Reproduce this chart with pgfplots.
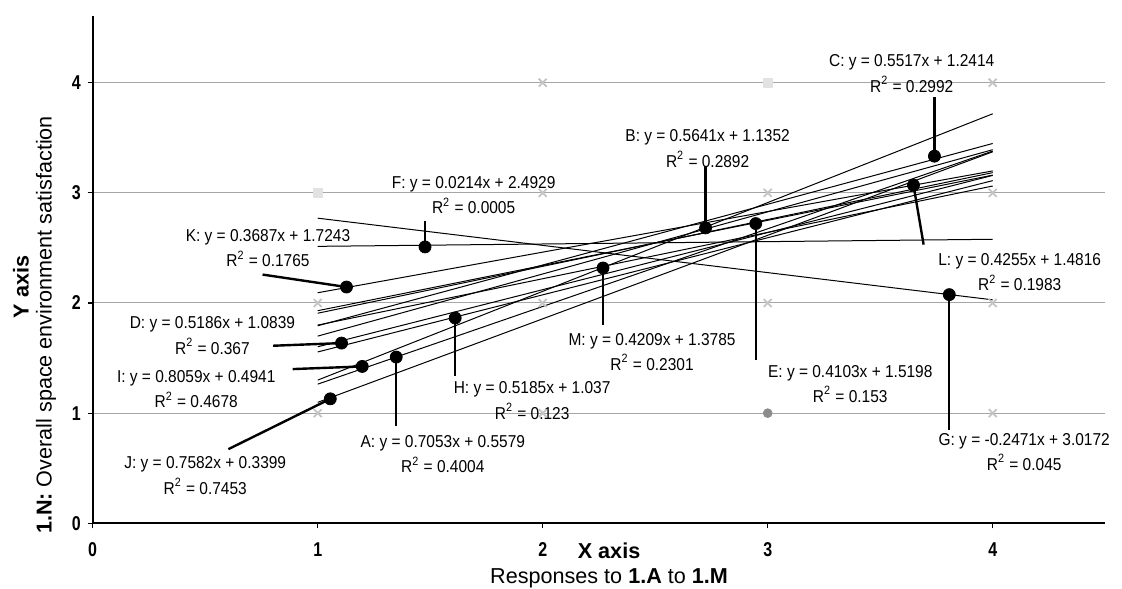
\documentclass[border=0pt]{standalone}
\usepackage{fontspec}
\setmainfont{Liberation Sans}
\newfontfamily\eqfont{Liberation Sans}[FakeStretch=0.9]
\newfontfamily\tickfont{Liberation Sans}[FakeStretch=0.8]
\usepackage{pgfplots}
\pgfplotsset{compat=1.18}
\definecolor{gridgray}{RGB}{166,166,166}
\definecolor{crossgray}{RGB}{196,196,196}
\definecolor{sqgray}{RGB}{226,226,226}
\definecolor{dotgray}{RGB}{140,140,140}

\tikzset{
  eq/.style={align=center, inner sep=0pt, font=\eqfont\fontsize{8.6bp}{12.7bp}\selectfont},
  trend/.style={black, line width=0.5bp, no marks},
  leader/.style={black, line width=1.2bp, no marks},
}

\begin{document}
\begin{tikzpicture}
\begin{axis}[
    at={(0,0)}, anchor=south west,
    x=112.5bp, y=55.075bp,
    xmin=0, xmax=4.5, ymin=0, ymax=4.605,
    clip=false,
    axis x line=bottom, axis y line=left,
    axis line style={-, line width=1bp},
    xtick={0,1,2,3,4}, ytick={0,1,2,3,4},
    tick align=outside, major tick length=2.5bp,
    tick style={black, line width=0.6bp},
    ymajorgrids,
    grid style={gridgray, line width=0.5bp},
    /pgf/number format/assume math mode=true,
    ticklabel style={font=\tickfont\fontsize{10bp}{10bp}\selectfont\bfseries},
    xticklabel style={anchor=center, yshift=-10.5bp},
    label style={font=\fontsize{10.8bp}{12.5bp}\selectfont},
    xlabel={\textbf{X axis}\\Responses to \textbf{1.A} to \textbf{1.M}},
    xlabel style={at={(axis description cs:0.51,0)}, anchor=center, yshift=-21.1bp, align=center},
    ylabel={\textbf{1.N:} Overall space environment satisfaction},
    ylabel style={at={(axis description cs:-0.0461,0.391)}, anchor=center},
]
% raw responses (grey markers)
\addplot[only marks, mark=x, mark size=2.8bp, mark options={crossgray, line width=0.9bp}]
    coordinates {(1,1)(1,2)(2,1)(2,2)(2,3)(2,4)(3,2)(3,3)(4,1)(4,2)(4,3)(4,4)};
\addplot[only marks, mark=square*, mark size=2.3bp, mark options={sqgray}]
    coordinates {(1,3)(3,4)};
\addplot[only marks, mark=*, mark size=2.2bp, mark options={dotgray}]
    coordinates {(3,1)};

% trend lines A..M, from x=1 to x=4
\addplot[trend] coordinates {(1,1.2632)(4,3.3791)}; % A
\addplot[trend] coordinates {(1,1.6993)(4,3.3916)}; % B
\addplot[trend] coordinates {(1,1.7931)(4,3.4482)}; % C
\addplot[trend] coordinates {(1,1.6025)(4,3.1583)}; % D
\addplot[trend] coordinates {(1,1.9301)(4,3.1610)}; % E
\addplot[trend] coordinates {(1,2.5143)(4,2.5785)}; % F
\addplot[trend] coordinates {(1,2.7701)(4,2.0288)}; % G
\addplot[trend] coordinates {(1,1.5555)(4,3.1110)}; % H
\addplot[trend] coordinates {(1,1.3000)(4,3.7177)}; % I
\addplot[trend] coordinates {(1,1.0981)(4,3.3727)}; % J
\addplot[trend] coordinates {(1,2.0930)(4,3.1991)}; % K
\addplot[trend] coordinates {(1,1.9071)(4,3.1836)}; % L
\addplot[trend] coordinates {(1,1.7994)(4,3.0621)}; % M

% leader lines
\addplot[leader] coordinates {(1.128,2.145)(0.755,2.258)}; % K
\addplot[leader] coordinates {(1.477,2.509)(1.477,2.742)}; % F
\addplot[leader] coordinates {(1.106,1.636)(0.802,1.612)}; % D
\addplot[leader] coordinates {(1.198,1.424)(0.889,1.400)}; % I
\addplot[leader] coordinates {(1.056,1.130)(0.603,0.673)}; % J
\addplot[leader] coordinates {(1.349,1.509)(1.349,0.885)}; % A
\addplot[leader] coordinates {(1.611,1.864)(1.611,1.339)}; % H
\addplot[leader] coordinates {(2.268,2.318)(2.268,1.803)}; % M
\addplot[leader] coordinates {(2.724,2.682)(2.724,3.242)}; % B
\addplot[leader] coordinates {(2.947,2.721)(2.947,1.479)}; % E
\addplot[leader] coordinates {(3.648,3.070)(3.693,2.530)}; % L
\addplot[leader] coordinates {(3.741,3.333)(3.741,3.873)}; % C
\addplot[leader] coordinates {(3.807,2.076)(3.807,0.848)}; % G

% label points
\addplot[only marks, mark=*, mark size=3bp, black]
    coordinates {(1.128,2.145)(1.477,2.509)(1.106,1.636)(1.198,1.424)(1.056,1.130)
                 (1.349,1.509)(1.611,1.864)(2.268,2.318)(2.724,2.682)(2.947,2.721)
                 (3.648,3.070)(3.741,3.333)(3.807,2.076)};

% equations
\node[eq] at (axis cs:0.779,2.496) {K: y = 0.3687x + 1.7243\\R\textsuperscript{2} = 0.1765};
\node[eq] at (axis cs:1.693,2.978) {F: y = 0.0214x + 2.4929\\R\textsuperscript{2} = 0.0005};
\node[eq] at (axis cs:0.532,1.705) {D: y = 0.5186x + 1.0839\\R\textsuperscript{2} = 0.367};
\node[eq] at (axis cs:0.460,1.217) {I: y = 0.8059x + 0.4941\\R\textsuperscript{2} = 0.4678};
\node[eq] at (axis cs:0.500,0.434) {J: y = 0.7582x + 0.3399\\R\textsuperscript{2} = 0.7453};
\node[eq] at (axis cs:1.556,0.629) {A: y = 0.7053x + 0.5579\\R\textsuperscript{2} = 0.4004};
\node[eq] at (axis cs:1.953,1.114) {H: y = 0.5185x + 1.037\\R\textsuperscript{2} = 0.123};
\node[eq] at (axis cs:2.486,1.556) {M: y = 0.4209x + 1.3785\\R\textsuperscript{2} = 0.2301};
\node[eq] at (axis cs:3.367,1.266) {E: y = 0.4103x + 1.5198\\R\textsuperscript{2} = 0.153};
\node[eq] at (axis cs:4.140,0.649) {G: y = -0.2471x + 3.0172\\R\textsuperscript{2} = 0.045};
\node[eq] at (axis cs:2.733,3.402) {B: y = 0.5641x + 1.1352\\R\textsuperscript{2} = 0.2892};
\node[eq] at (axis cs:3.640,4.081) {C: y = 0.5517x + 1.2414\\R\textsuperscript{2} = 0.2992};
\node[eq] at (axis cs:4.120,2.281) {L: y = 0.4255x + 1.4816\\R\textsuperscript{2} = 0.1983};

\node[rotate=90, font=\fontsize{10.8bp}{12.5bp}\selectfont\bfseries] at (axis cs:-0.3187,2.145) {Y axis};
\end{axis}
\pgfresetboundingbox
\path (-46.35bp,-32.85bp) rectangle (514.65bp,261.65bp);
\end{tikzpicture}
\end{document}
